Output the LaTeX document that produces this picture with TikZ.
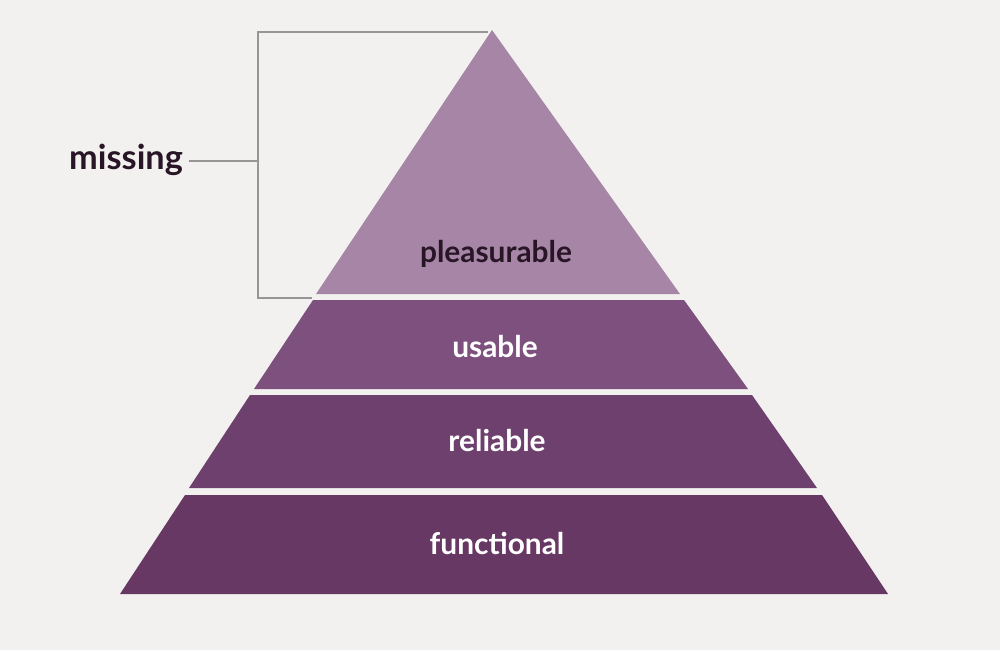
\documentclass[tikz,border=0pt]{standalone}
\usepackage{fontspec}
\setmainfont{Lato}
\definecolor{page}{RGB}{242,241,239}
\definecolor{pleasure}{RGB}{166,133,166}
\definecolor{usab}{RGB}{126,80,126}
\definecolor{relia}{RGB}{110,64,110}
\definecolor{funct}{RGB}{102,56,99}
\definecolor{brackgray}{RGB}{150,150,150}
\definecolor{darktext}{RGB}{40,22,38}
\begin{document}
\begin{tikzpicture}[x=0.2mm, y=-0.2mm, >=stealth]
\fill[page] (0,0) rectangle (1000,650);
\useasboundingbox (0,0) rectangle (1000,650);

\begin{scope}[]
    \fill[pleasure] (492,30) -- (680,294) -- (316,294) -- cycle;
    \fill[usab]  (313,300) -- (684,300) -- (748,389) -- (254,389) -- cycle;
    \fill[relia] (250,395) -- (752,395) -- (817,488) -- (189,488) -- cycle;
    \fill[funct] (185,495) -- (822,495) -- (888,594) -- (120,594) -- cycle;
\end{scope}

\begin{scope}[every node/.style={font=\fontsize{17}{20}\selectfont\bfseries}]
    \node[text=darktext] (pleasurable) at (496,254) {pleasurable};
    \node[text=white] (usable)     at (495,347) {usable};
    \node[text=white] (reliable)   at (497,441) {reliable};
    \node[text=white] (functional) at (497,544) {functional};
    \node[text=darktext, font=\fontsize{19.5}{22}\selectfont\bfseries] (missing) at (126,160) {missing};
\end{scope}

\begin{scope}[every path/.style={draw=brackgray, line width=0.45mm}]
    \coordinate (top-r) at (488,32);
    \coordinate (top-l) at (258,32);
    \coordinate (mid)   at (258,161);
    \coordinate (bot-l) at (258,298);
    \coordinate (bot-r) at (312,298);
    \path (top-r) -- (top-l) -- (bot-l) -- (bot-r);
    \path (missing.east |- mid) -- (mid);
\end{scope}
\end{tikzpicture}
\end{document}
